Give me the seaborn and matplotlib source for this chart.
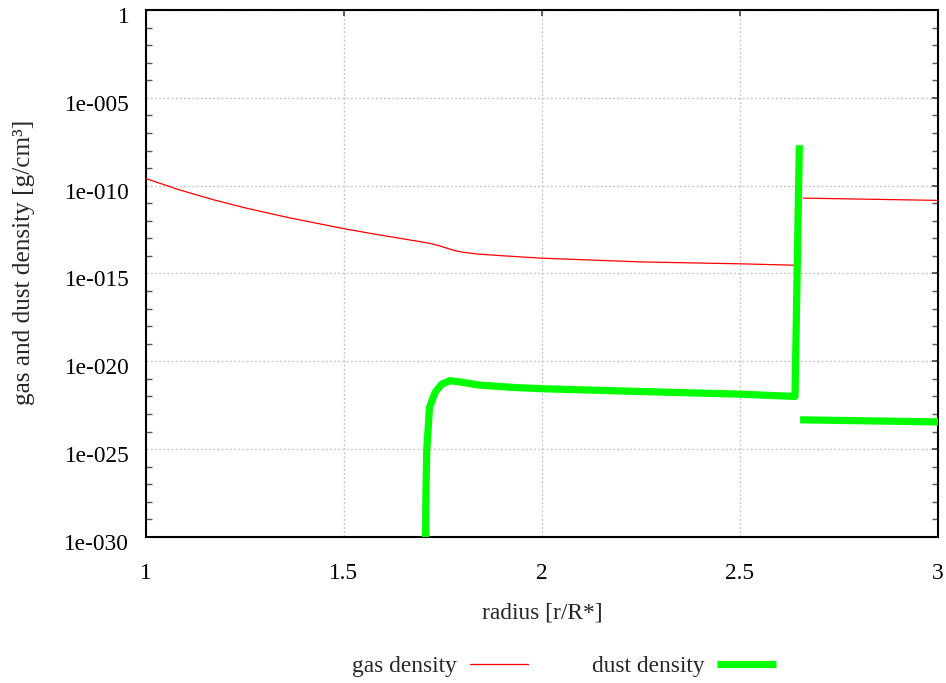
import numpy as np
import pandas as pd
import matplotlib
matplotlib.use("Agg")
import matplotlib.pyplot as plt
from matplotlib.lines import Line2D
from matplotlib.ticker import FixedLocator, FixedFormatter, NullFormatter
from matplotlib.transforms import ScaledTranslation
import seaborn as sns

# ---- data (log10 of density) ----
gas_r_inner = [1.0, 1.083, 1.17, 1.253, 1.362, 1.5, 1.58, 1.69, 1.72, 1.74, 1.76,
               1.78, 1.80, 1.84, 1.9, 2.0, 2.247, 2.5, 2.639]
gas_log_inner = [-9.6, -10.23, -10.8, -11.28, -11.83, -12.45, -12.77, -13.18, -13.3,
                 -13.42, -13.56, -13.7, -13.79, -13.9, -13.99, -14.13, -14.34, -14.45, -14.53]
gas_r_outer = [2.66, 3.0]
gas_log_outer = [-10.71, -10.84]

dust_r_inner = [1.706, 1.707, 1.709, 1.716, 1.73, 1.747, 1.768, 1.80, 1.84, 1.93,
                2.0, 2.25, 2.5, 2.639, 2.65]
dust_log_inner = [-30.0, -27.5, -25.1, -22.63, -21.77, -21.3, -21.1, -21.2, -21.35,
                  -21.49, -21.56, -21.72, -21.87, -22.0, -7.7]
dust_r_outer = [2.652, 3.0]
dust_log_outer = [-23.33, -23.45]

y_tick_exps = [0, -5, -10, -15, -20, -25, -30]
y_tick_labels = ["1", "1e-005", "1e-010", "1e-015", "1e-020", "1e-025", "1e-030"]
x_ticks = [1, 1.5, 2, 2.5, 3]
x_tick_labels = ["1", "1.5", "2", "2.5", "3"]

sns.set_theme(style="white")
plt.rcParams["font.family"] = ["Liberation Serif", "DejaVu Serif"]

fig = plt.figure(figsize=(9.46, 6.83), dpi=100)
ax = fig.add_axes([0.1543, 0.2138, 0.8372, 0.7716])

GAS = "#ff0000"
DUST = "#00ff00"

def seg(r, lg):
    return pd.DataFrame({"r": r, "rho": [10.0 ** v for v in lg]})

for r, lg in [(gas_r_inner, gas_log_inner), (gas_r_outer, gas_log_outer)]:
    sns.lineplot(data=seg(r, lg), x="r", y="rho", ax=ax, color=GAS, lw=0.9,
                 sort=False, estimator=None, zorder=3)
for r, lg in [(dust_r_inner, dust_log_inner), (dust_r_outer, dust_log_outer)]:
    sns.lineplot(data=seg(r, lg), x="r", y="rho", ax=ax, color=DUST, lw=5.2,
                 sort=False, estimator=None, zorder=4,
                 solid_joinstyle="round", solid_capstyle="butt")

ax.set_yscale("log")
ax.set_xlim(1, 3)
ax.set_ylim(1e-30, 1)

ax.yaxis.set_major_locator(FixedLocator([10.0 ** e for e in y_tick_exps]))
ax.yaxis.set_major_formatter(FixedFormatter(y_tick_labels))
ax.yaxis.set_minor_locator(FixedLocator([10.0 ** e for e in range(-30, 1)]))
ax.yaxis.set_minor_formatter(NullFormatter())
ax.xaxis.set_major_locator(FixedLocator(x_ticks))
ax.xaxis.set_major_formatter(FixedFormatter(x_tick_labels))

ax.tick_params(axis="both", which="major", direction="in", length=4.5, width=1.2,
               color="#444444", labelsize=16.8, top=True, right=True, labelcolor="black")
ax.tick_params(axis="y", which="minor", direction="in", length=4, width=1.0,
               color="#555555", left=True, right=True)
ax.tick_params(axis="x", which="major", pad=19)
ax.tick_params(axis="y", which="major", pad=12)

fig.canvas.draw()
off = ScaledTranslation(0, -5 / 100, fig.dpi_scale_trans)
for lab in ax.get_yticklabels():
    lab.set_transform(lab.get_transform() + off)

ax.grid(True, which="major", linestyle=(0, (1.5, 1.5)), color="#c8c8c8", lw=1.0)
ax.set_axisbelow(True)
for s in ax.spines.values():
    s.set_color("black")
    s.set_linewidth(1.5)

ax.set_xlabel("radius [r/R*]", fontsize=16.8, labelpad=13)
ax.set_ylabel("gas and dust density [g/cm³]", fontsize=18.2)
ax.yaxis.set_label_coords(-0.140, 0.522)

handles = [Line2D([], [], color=GAS, lw=0.9),
           Line2D([], [], color=DUST, lw=5.2, solid_capstyle="butt")]
fig.legend(handles, ["gas density", "dust density"], loc="center",
           bbox_to_anchor=(0.596, 0.024), ncol=2, markerfirst=False, frameon=False,
           fontsize=16.8, handlelength=2.5, handletextpad=0.55, columnspacing=2.75)

fig.savefig("out.png", dpi=100)
